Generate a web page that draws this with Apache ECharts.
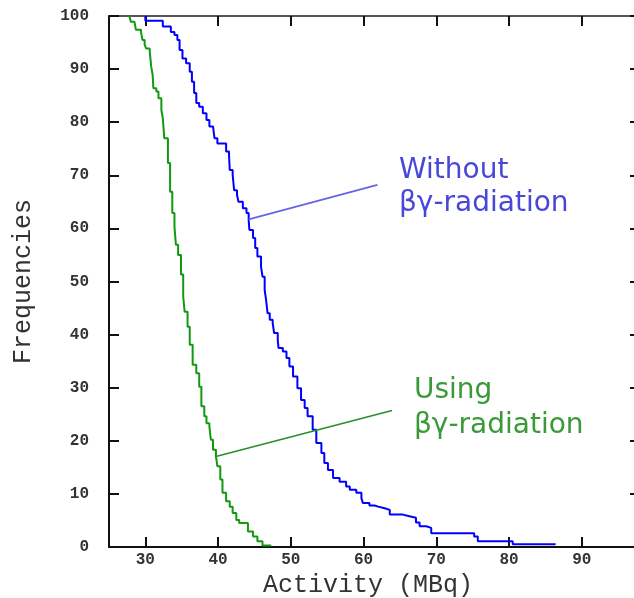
<!DOCTYPE html>
<html>
<head>
<meta charset="utf-8">
<script src="https://cdn.jsdelivr.net/npm/echarts/dist/echarts.min.js"></script>
<style>
html,body{margin:0;padding:0;background:#fff;}
#chart{width:634px;height:598px;}
</style>
</head>
<body>
<div id="chart"></div>
<script>
// Without βγ-radiation (blue) : activity (MBq) where the curve drops, and frequency level after drop
const blueActivity = [30.0, 30.0, 32.4, 33.5, 34.0, 34.4, 34.7, 35.1, 35.6, 36.1,
  36.4, 36.7, 37.0, 37.4, 37.9, 38.4, 38.8, 39.3, 39.5, 39.9,
  41.1, 41.5, 41.6, 42.0, 42.2, 42.6, 42.8, 43.4, 43.9, 44.2,
  44.3, 44.8, 45.1, 45.4, 45.9, 46.1, 46.4, 46.6, 46.8, 47.1,
  47.5, 47.7, 48.2, 48.3, 48.9, 49.4, 49.8, 50.3, 50.9, 51.4,
  51.9, 52.3, 53.0, 53.5, 54.2, 54.6, 55.1, 55.8, 56.7, 57.6,
  58.1, 59.0, 59.7, 59.9, 60.8, 61.5, 62.0, 62.9, 63.6, 65.4,
  66.3, 67.2, 67.7, 68.6, 69.3, 75.2, 75.7, 80.5, 86.4];
const blueFreq = [100, 99.1, 98.0, 97.0, 96.4, 95.5, 93.6, 92.0, 91.1, 89.5,
  87.6, 85.5, 83.6, 82.9, 81.7, 80.4, 79.2, 78.9, 77.0, 76.0,
  74.5, 73.8, 71.0, 70.1, 67.2, 66.3, 65.0, 63.8, 62.9, 61.6,
  59.7, 58.2, 56.3, 54.7, 52.8, 50.9, 48.4, 46.5, 44.0, 42.8,
  42.2, 40.3, 39.0, 37.5, 36.8, 35.6, 34.0, 32.1, 29.9, 27.7,
  26.2, 24.6, 22.1, 19.6, 17.7, 15.8, 14.5, 13.0, 12.3, 11.4,
  10.8, 10.2, 9.2, 8.3, 7.8, 7.6, 7.3, 7.0, 6.1, 5.8,
  5.5, 4.6, 3.9, 3.6, 2.6, 2.0, 1.1, 0.5, 0.5];

// Using βγ-radiation (green)
const greenActivity = [27.8, 28.0, 28.5, 28.7, 29.4, 29.6, 29.9, 30.1, 30.6, 30.8,
  31.0, 31.1, 31.5, 31.8, 32.2, 32.4, 32.6, 33.1, 33.4, 33.7,
  34.0, 34.2, 34.5, 34.9, 35.2, 35.4, 35.8, 36.1, 36.5, 37.0,
  37.4, 37.7, 38.1, 38.4, 38.8, 39.0, 39.3, 39.7, 39.9, 40.3,
  40.6, 41.1, 41.6, 42.0, 42.5, 42.9, 44.1, 44.8, 45.4, 46.1,
  47.3];
const greenFreq = [100, 98.9, 98.6, 97.4, 97.0, 95.5, 94.6, 93.9, 93.3, 90.5,
  88.9, 86.4, 85.8, 84.5, 82.3, 80.7, 77.0, 72.3, 66.9, 62.9,
  60.3, 56.9, 55.0, 51.3, 47.2, 44.3, 41.5, 38.1, 34.3, 32.7,
  30.2, 26.5, 24.6, 23.3, 22.7, 20.2, 18.3, 17.1, 15.2, 12.7,
  10.2, 8.6, 7.6, 6.4, 5.1, 4.5, 2.9, 2.0, 1.1, 0.3,
  0.3];

// Annotation leader lines (data coordinates)
const blueLeaderX = [44.2, 61.9];
const blueLeaderY = [61.7, 68.2];
const greenLeaderX = [39.7, 63.9];
const greenLeaderY = [17.05, 25.7];

const xTitle = 'Activity (MBq)';
const yTitle = 'Frequencies';
const blueLabel = ['Without', 'βγ-radiation'];
const greenLabel = ['Using', 'βγ-radiation'];

function pairs(xs, ys) { return xs.map((x, i) => [x, ys[i]]); }

const chart = echarts.init(document.getElementById('chart'), null, {renderer: 'canvas'});

const GRID = {left: 109, top: 16, width: 531, height: 531, outerBoundsMode: 'none', containLabel: false};
const axisColor = '#111';
const tickFont = {fontFamily: 'Liberation Mono', fontSize: 16, fontWeight: 'bold', color: '#333'};
const annFont = '28px "DejaVu Sans"';

chart.setOption({
  animation: false,
  backgroundColor: '#fff',
  grid: GRID,
  xAxis: [{
    type: 'value', position: 'bottom', min: 25, max: 98, splitNumber: 7, minInterval: 10, maxInterval: 10,
    axisLine: {show: true, onZero: false, lineStyle: {color: axisColor, width: 2}},
    axisTick: {show: true, inside: true, length: 10, lineStyle: {color: axisColor, width: 2}},
    axisLabel: Object.assign({margin: 5, showMinLabel: false, showMaxLabel: false}, tickFont),
    splitLine: {show: false},
    name: xTitle, nameLocation: 'middle', nameGap: 23,
    nameTextStyle: {fontFamily: 'Liberation Mono', fontSize: 25, color: '#333', padding: [0, 13, 0, 0]}
  }, {
    type: 'value', position: 'top', min: 25, max: 98, splitNumber: 7, minInterval: 10, maxInterval: 10,
    axisLine: {show: true, onZero: false, lineStyle: {color: '#555', width: 2}},
    axisTick: {show: true, inside: true, length: 10, lineStyle: {color: axisColor, width: 2}},
    axisLabel: {show: false},
    splitLine: {show: false}
  }],
  yAxis: [{
    type: 'value', position: 'left', min: 0, max: 100, interval: 10,
    axisLine: {show: true, onZero: false, lineStyle: {color: axisColor, width: 2}},
    axisTick: {show: true, inside: true, length: 10, lineStyle: {color: axisColor, width: 2}},
    axisLabel: Object.assign({margin: 20}, tickFont),
    splitLine: {show: false},
    name: yTitle, nameLocation: 'middle', nameGap: 73, nameRotate: 90,
    nameTextStyle: {fontFamily: 'Liberation Mono', fontSize: 25, color: '#333'}
  }, {
    type: 'value', position: 'right', min: 0, max: 100, interval: 10,
    axisLine: {show: true, onZero: false, lineStyle: {color: '#555', width: 2}},
    axisTick: {show: true, inside: true, length: 10, lineStyle: {color: axisColor, width: 2}},
    axisLabel: {show: false},
    splitLine: {show: false}
  }],
  series: [{
    type: 'line', name: 'Without', xAxisIndex: 0, yAxisIndex: 0,
    data: pairs(blueActivity, blueFreq), step: 'end', showSymbol: false, symbol: 'none',
    lineStyle: {color: '#0000ff', width: 2}, z: 3
  }, {
    type: 'line', name: 'Using', xAxisIndex: 0, yAxisIndex: 0,
    data: pairs(greenActivity, greenFreq), step: 'end', showSymbol: false, symbol: 'none',
    lineStyle: {color: '#119911', width: 2}, z: 3
  }, {
    type: 'line', name: 'blueLeader', data: pairs(blueLeaderX, blueLeaderY), showSymbol: false, symbol: 'none',
    lineStyle: {color: '#6464e6', width: 1.6}, z: 4
  }, {
    type: 'line', name: 'greenLeader', data: pairs(greenLeaderX, greenLeaderY), showSymbol: false, symbol: 'none',
    lineStyle: {color: '#2a8f2a', width: 1.6}, z: 4
  }],
  graphic: [
    {type: 'text', x: 399, y: 171, style: {text: blueLabel[0], fill: '#4848d8', font: annFont, align: 'left', verticalAlign: 'middle'}},
    {type: 'text', x: 399, y: 204, style: {text: blueLabel[1], fill: '#4848d8', font: annFont, align: 'left', verticalAlign: 'middle'}},
    {type: 'text', x: 414, y: 391, style: {text: greenLabel[0], fill: '#3a9a3a', font: annFont, align: 'left', verticalAlign: 'middle'}},
    {type: 'text', x: 414, y: 426, style: {text: greenLabel[1], fill: '#3a9a3a', font: annFont, align: 'left', verticalAlign: 'middle'}}
  ]
});
</script>
</body>
</html>
